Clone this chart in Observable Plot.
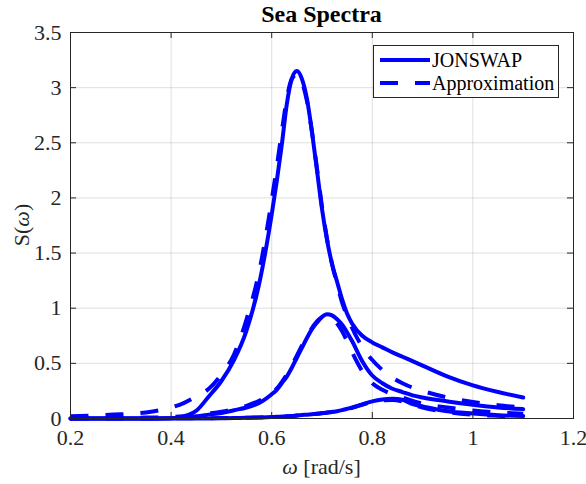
<!DOCTYPE html>
<html><head><meta charset="utf-8">
<script src="https://cdn.jsdelivr.net/npm/d3@7"></script>
<script src="https://cdn.jsdelivr.net/npm/@observablehq/plot@0.6"></script>
<style>
body{margin:0;background:#fff;}
#wrap{position:relative;width:586px;height:484px;font-family:"Liberation Serif","Times New Roman",serif;color:#262626;}
.lbl{position:absolute;white-space:nowrap;}
</style></head><body><div id="wrap"></div>
<script>
// ---- data ----
const omega = [0.2,0.25,0.3,0.35,0.4,0.425,0.45,0.475,0.5,0.525,0.55,0.575,0.6,0.61,0.62,0.63,0.64,0.65,0.66,0.67,0.68,0.69,0.7,0.71,0.72,0.73,0.74,0.75,0.76,0.78,0.8,0.82,0.84,0.86,0.88,0.9,0.95,1.0,1.05,1.1];
const jonswap1 = [0,0,0,0,0.003,0.02,0.07,0.2,0.34,0.53,0.8,1.22,1.85,2.15,2.48,2.85,3.08,3.15,3.08,2.9,2.6,2.25,1.9,1.62,1.4,1.24,1.08,0.95,0.86,0.75,0.69,0.645,0.6,0.56,0.52,0.48,0.38,0.3,0.24,0.19];
const approx1  = [0.02,0.028,0.038,0.055,0.1,0.14,0.2,0.27,0.4,0.58,0.9,1.33,1.98,2.28,2.6,2.9,3.08,3.12,3.05,2.88,2.6,2.27,1.92,1.63,1.4,1.22,1.05,0.93,0.82,0.65,0.53,0.44,0.37,0.32,0.28,0.25,0.19,0.15,0.12,0.1];
const jonswap2 = [0,0,0,0,0.003,0.01,0.02,0.035,0.05,0.075,0.1,0.14,0.22,0.26,0.32,0.38,0.46,0.55,0.64,0.73,0.81,0.87,0.92,0.945,0.935,0.9,0.85,0.78,0.7,0.52,0.39,0.32,0.27,0.24,0.21,0.19,0.155,0.125,0.1,0.085];
const approx2  = [0.003,0.004,0.005,0.008,0.013,0.02,0.03,0.045,0.062,0.085,0.115,0.16,0.23,0.27,0.33,0.4,0.48,0.57,0.66,0.75,0.82,0.88,0.92,0.93,0.91,0.86,0.79,0.7,0.6,0.43,0.32,0.26,0.22,0.19,0.16,0.135,0.1,0.072,0.055,0.043];
const jonswap3 = [0,0,0,0,0,0,0,0.001,0.002,0.004,0.006,0.009,0.013,0.015,0.017,0.02,0.023,0.027,0.031,0.035,0.039,0.043,0.048,0.053,0.058,0.066,0.076,0.088,0.1,0.128,0.155,0.172,0.178,0.17,0.13,0.11,0.065,0.045,0.03,0.022];
const approx3  = [0.001,0.001,0.001,0.001,0.002,0.002,0.003,0.003,0.004,0.005,0.007,0.01,0.013,0.015,0.017,0.02,0.023,0.027,0.031,0.035,0.039,0.044,0.049,0.054,0.06,0.067,0.076,0.085,0.097,0.125,0.15,0.165,0.168,0.155,0.125,0.1,0.058,0.035,0.024,0.015];
const xTicks = [0.2,0.4,0.6,0.8,1,1.2];
const xTickLabels = ["0.2","0.4","0.6","0.8","1","1.2"];
const yTicks = [0,0.5,1,1.5,2,2.5,3,3.5];
const yTickLabels = ["0","0.5","1","1.5","2","2.5","3","3.5"];
const legendLabels = ["JONSWAP","Approximation"];

const W = 586, H = 484, mL = 70, mR = 13, mT = 32, mB = 66;
const innerW = W - mL - mR, innerH = H - mT - mB;
const blue = "#0000ff", axisColor = "#262626";

const series = [
  {vals: jonswap1, dashed: false}, {vals: approx1, dashed: true},
  {vals: jonswap2, dashed: false}, {vals: approx2, dashed: true},
  {vals: jonswap3, dashed: false}, {vals: approx3, dashed: true}
];
const rows = series.flatMap((s, i) => omega.map((w, j) => ({w, S: s.vals[j], id: i, dashed: s.dashed})));

const chart = Plot.plot({
  width: W, height: H,
  marginLeft: mL, marginRight: mR, marginTop: mT, marginBottom: mB,
  style: {fontFamily: '"Liberation Serif","Times New Roman",serif', fontSize: "22px", color: axisColor, background: "#fff"},
  x: {domain: [0.2, 1.2]},
  y: {domain: [0, 3.5]},
  marks: [
    Plot.gridX(xTicks, {stroke: axisColor, strokeOpacity: 0.15, strokeWidth: 1}),
    Plot.gridY(yTicks, {stroke: axisColor, strokeOpacity: 0.15, strokeWidth: 1}),
    Plot.line(rows.filter(d => !d.dashed), {x: "w", y: "S", z: "id", stroke: blue, strokeWidth: 4, curve: "monotone-x"}),
    Plot.line(rows.filter(d => d.dashed), {x: "w", y: "S", z: "id", stroke: blue, strokeWidth: 4, curve: "monotone-x", strokeDasharray: "18,17", strokeLinecap: "butt"}),
    Plot.frame({stroke: axisColor, strokeWidth: 1}),
    Plot.tickX(xTicks, {x: d => d, insetTop: innerH - 6, stroke: axisColor}),
    Plot.tickX(xTicks, {x: d => d, insetBottom: innerH - 6, stroke: axisColor}),
    Plot.tickY(yTicks, {y: d => d, insetRight: innerW - 6, stroke: axisColor}),
    Plot.tickY(yTicks, {y: d => d, insetLeft: innerW - 6, stroke: axisColor}),
    Plot.axisX(xTicks, {tickSize: 0, tickPadding: 11, tickFormat: d => xTickLabels[xTicks.indexOf(d)], label: null, fontSize: 22}),
    Plot.axisY(yTicks, {tickSize: 0, tickPadding: 9, tickFormat: d => yTickLabels[yTicks.indexOf(d)], label: null, fontSize: 22})
  ]
});

const wrap = document.getElementById("wrap");
wrap.appendChild(chart);

function addLabel(html, css) {
  const d = document.createElement("div");
  d.className = "lbl";
  d.innerHTML = html;
  Object.assign(d.style, css);
  wrap.appendChild(d);
  return d;
}
// title
addLabel("Sea Spectra", {left: mL + "px", width: innerW + "px", top: "0px", textAlign: "center", fontWeight: "bold", fontSize: "24px", lineHeight: "28px", color: "#000"});
// x label
addLabel("<i>ω</i> [rad/s]", {left: mL + "px", width: innerW + "px", top: "454px", textAlign: "center", fontSize: "22px", lineHeight: "26px"});
// y label
addLabel("S(<i>ω</i>)", {left: "-28px", width: "100px", top: "212px", textAlign: "center", fontSize: "22px", lineHeight: "26px", transform: "rotate(-90deg)"});

// legend
const leg = document.createElement("div");
Object.assign(leg.style, {position: "absolute", left: "373px", top: "45px", width: "186px", height: "53px", border: "1px solid #262626", background: "#fff", boxSizing: "border-box"});
wrap.appendChild(leg);
const lsvg = d3.select(leg).append("svg").attr("width", 186).attr("height", 53).style("position", "absolute").style("left", "-1px").style("top", "-1px");
legendLabels.forEach((t, i) => {
  const y = 15 + i * 23;
  lsvg.append("line").attr("x1", 7).attr("x2", 57).attr("y1", y).attr("y2", y)
    .attr("stroke", blue).attr("stroke-width", 4)
    .attr("stroke-dasharray", i === 1 ? "18,17" : null);
  lsvg.append("text").attr("x", 59).attr("y", y).attr("dy", "0.35em")
    .attr("font-family", '"Liberation Serif","Times New Roman",serif').attr("font-size", 20).attr("fill", "#000").text(t);
});
</script>
</body></html>
